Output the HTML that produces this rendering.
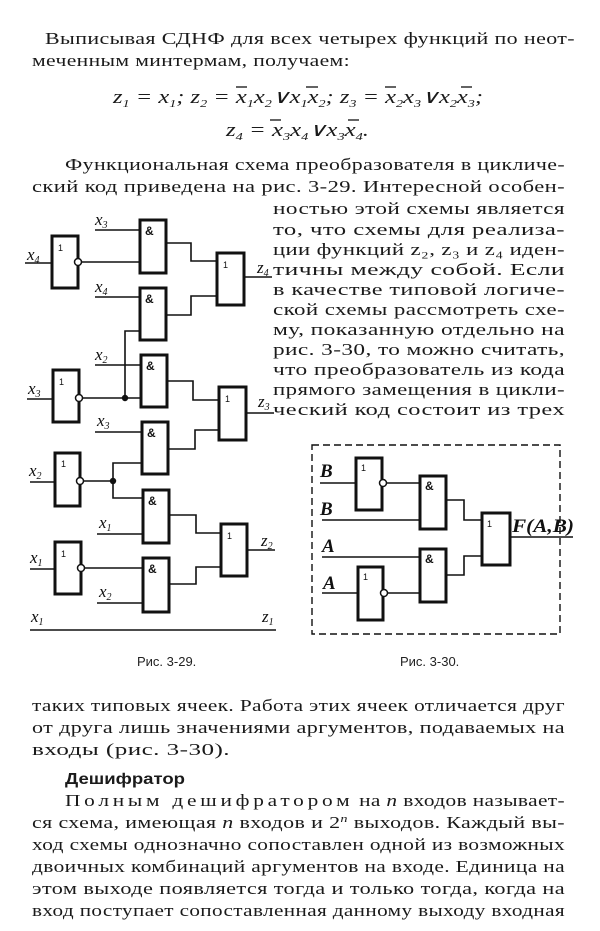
<!DOCTYPE html>
<html><head><meta charset="utf-8"><style>
html,body{margin:0;padding:0;background:#fff;}
svg{display:block}
.t{font-family:"Liberation Serif",serif;font-size:17px;fill:#1a1a1a;letter-spacing:0.3px}
.m{font-family:"Liberation Serif",serif;font-style:italic;font-size:19px;fill:#1a1a1a}
.s{font-family:"Liberation Serif",serif;font-style:italic;font-size:17px;fill:#111}
.c{font-family:"Liberation Sans",sans-serif;font-size:13px;fill:#222}
.g{fill:none;stroke:#111;stroke-width:3}
.w{fill:none;stroke:#111;stroke-width:1.6}
.gl{font-family:"Liberation Sans",sans-serif;font-size:9px;fill:#111}
.ga{font-family:"Liberation Sans",sans-serif;font-size:12px;font-weight:bold;fill:#111}
.b{font-family:"Liberation Serif",serif;font-style:italic;font-weight:bold;font-size:19px;fill:#111}
</style></head><body>
<svg width="600" height="931" viewBox="0 0 600 931" xmlns="http://www.w3.org/2000/svg">
<text class="t" x="45" y="44" textLength="530" lengthAdjust="spacingAndGlyphs">Выписывая СДНФ для всех четырех функций по неот-</text>
<text class="t" x="32" y="66" textLength="318" lengthAdjust="spacingAndGlyphs">меченным минтермам, получаем:</text>
<text class="m" x="113" y="103" textLength="370" lengthAdjust="spacingAndGlyphs">z<tspan font-size="11" dy="4">1</tspan><tspan dy="-4"> = x</tspan><tspan font-size="11" dy="4">1</tspan><tspan dy="-4">;  z</tspan><tspan font-size="11" dy="4">2</tspan><tspan dy="-4"> = x</tspan><tspan font-size="11" dy="4">1</tspan><tspan dy="-4">x</tspan><tspan font-size="11" dy="4">2</tspan><tspan dy="-4">∨x</tspan><tspan font-size="11" dy="4">1</tspan><tspan dy="-4">x</tspan><tspan font-size="11" dy="4">2</tspan><tspan dy="-4">;  z</tspan><tspan font-size="11" dy="4">3</tspan><tspan dy="-4"> = x</tspan><tspan font-size="11" dy="4">2</tspan><tspan dy="-4">x</tspan><tspan font-size="11" dy="4">3</tspan><tspan dy="-4">∨x</tspan><tspan font-size="11" dy="4">2</tspan><tspan dy="-4">x</tspan><tspan font-size="11" dy="4">3</tspan><tspan dy="-4">;</tspan></text>
<g stroke="#111" stroke-width="1.3">
<line x1="236" y1="87" x2="247" y2="87"/><line x1="306" y1="87" x2="318" y2="87"/>
<line x1="385" y1="87" x2="396" y2="87"/><line x1="461" y1="87" x2="472" y2="87"/>
<line x1="270" y1="120" x2="281" y2="120"/><line x1="348" y1="120" x2="359" y2="120"/>
</g>
<text class="m" x="226" y="136" textLength="143" lengthAdjust="spacingAndGlyphs">z<tspan font-size="11" dy="4">4</tspan><tspan dy="-4"> = x</tspan><tspan font-size="11" dy="4">3</tspan><tspan dy="-4">x</tspan><tspan font-size="11" dy="4">4</tspan><tspan dy="-4">∨x</tspan><tspan font-size="11" dy="4">3</tspan><tspan dy="-4">x</tspan><tspan font-size="11" dy="4">4</tspan><tspan dy="-4">.</tspan></text>
<text class="t" x="65" y="170" textLength="500" lengthAdjust="spacingAndGlyphs">Функциональная схема преобразователя в цикличе-</text>
<text class="t" x="32" y="192" textLength="533" lengthAdjust="spacingAndGlyphs">ский код приведена на рис. 3-29. Интересной особен-</text>
<g class="t">
<text x="273" y="214" textLength="292" lengthAdjust="spacingAndGlyphs">ностью этой схемы является</text>
<text x="273" y="235" textLength="292" lengthAdjust="spacingAndGlyphs">то, что схемы для реализа-</text>
<text x="273" y="255" textLength="292" lengthAdjust="spacingAndGlyphs">ции функций z₂, z₃ и z₄ иден-</text>
<text x="273" y="275" textLength="292" lengthAdjust="spacingAndGlyphs">тичны  между собой. Если</text>
<text x="273" y="295" textLength="292" lengthAdjust="spacingAndGlyphs">в качестве типовой логиче-</text>
<text x="273" y="315" textLength="292" lengthAdjust="spacingAndGlyphs">ской схемы рассмотреть схе-</text>
<text x="273" y="335" textLength="292" lengthAdjust="spacingAndGlyphs">му, показанную отдельно на</text>
<text x="273" y="355" textLength="292" lengthAdjust="spacingAndGlyphs">рис. 3-30, то можно считать,</text>
<text x="273" y="375" textLength="292" lengthAdjust="spacingAndGlyphs">что преобразователь из кода</text>
<text x="273" y="395" textLength="292" lengthAdjust="spacingAndGlyphs">прямого замещения в цикли-</text>
<text x="273" y="415" textLength="292" lengthAdjust="spacingAndGlyphs">ческий код состоит из трех</text>
</g>
<g class="w">
<path d="M25 263H52"/><path d="M95 230H140"/><path d="M82 262H140"/>
<path d="M166 243H191V261H217"/><path d="M244 277H272"/>
<path d="M95 297H140"/><path d="M166 315H191V296H217"/>
<path d="M140 331H125V398"/>
<path d="M27 399H53"/><path d="M95 365H141"/><path d="M83 398H141"/>
<path d="M167 381H193V400H218"/><path d="M246 413H274"/>
<path d="M95 432H142"/><path d="M168 449H195V430H219"/>
<path d="M142 463H113V498H143"/>
<path d="M30 482H55"/><path d="M84 481H113"/>
<path d="M97 534H143"/><path d="M169 515H196V533H221"/><path d="M247 550H275"/>
<path d="M30 569H55"/><path d="M85 568H143"/><path d="M97 603H143"/><path d="M169 584H196V567H221"/>
<path d="M30 630H276"/>
</g>
<g class="g">
<rect x="52" y="236" width="26" height="52"/><rect x="140" y="220" width="26" height="53"/>
<rect x="217" y="253" width="27" height="52"/><rect x="140" y="288" width="26" height="52"/>
<rect x="53" y="370" width="26" height="52"/><rect x="141" y="355" width="26" height="52"/>
<rect x="219" y="387" width="27" height="53"/><rect x="142" y="422" width="26" height="52"/>
<rect x="55" y="453" width="25" height="53"/><rect x="143" y="490" width="26" height="53"/>
<rect x="221" y="524" width="26" height="52"/><rect x="55" y="542" width="26" height="52"/>
<rect x="143" y="558" width="26" height="54"/>
</g>
<g fill="#fff" stroke="#111" stroke-width="1.5">
<circle cx="78" cy="262" r="3.5"/><circle cx="79" cy="398" r="3.5"/><circle cx="80" cy="481" r="3.5"/><circle cx="81" cy="568" r="3.5"/>
</g>
<circle cx="125" cy="398" r="3.2" fill="#111"/><circle cx="113" cy="481" r="3.2" fill="#111"/>
<g class="gl">
<text x="58" y="251">1</text><text x="223" y="268">1</text><text x="59" y="385">1</text><text x="225" y="402">1</text>
<text x="61" y="467">1</text><text x="227" y="539">1</text><text x="61" y="557">1</text>
</g>
<g class="ga">
<text x="145" y="235">&amp;</text><text x="145" y="303">&amp;</text><text x="146" y="370">&amp;</text><text x="147" y="437">&amp;</text>
<text x="148" y="505">&amp;</text><text x="148" y="573">&amp;</text>
</g>
<g class="s">
<text x="95" y="225">x<tspan font-size="10" dy="3">3</tspan></text>
<text x="27" y="260">x<tspan font-size="10" dy="3">4</tspan></text>
<text x="257" y="273">z<tspan font-size="10" dy="3">4</tspan></text>
<text x="95" y="292">x<tspan font-size="10" dy="3">4</tspan></text>
<text x="95" y="360">x<tspan font-size="10" dy="3">2</tspan></text>
<text x="28" y="394">x<tspan font-size="10" dy="3">3</tspan></text>
<text x="258" y="407">z<tspan font-size="10" dy="3">3</tspan></text>
<text x="97" y="426">x<tspan font-size="10" dy="3">3</tspan></text>
<text x="29" y="476">x<tspan font-size="10" dy="3">2</tspan></text>
<text x="99" y="528">x<tspan font-size="10" dy="3">1</tspan></text>
<text x="261" y="546">z<tspan font-size="10" dy="3">2</tspan></text>
<text x="30" y="563">x<tspan font-size="10" dy="3">1</tspan></text>
<text x="99" y="597">x<tspan font-size="10" dy="3">2</tspan></text>
<text x="31" y="622">x<tspan font-size="10" dy="3">1</tspan></text>
<text x="262" y="622">z<tspan font-size="10" dy="3">1</tspan></text>
</g>
<text class="c" x="137" y="666">Рис. 3-29.</text>
<rect x="312" y="445" width="248" height="189" fill="none" stroke="#111" stroke-width="1.4" stroke-dasharray="7,4"/>
<g class="w">
<path d="M320 483H356"/><path d="M386 483H420"/><path d="M322 520H420"/>
<path d="M446 500H464V520H482"/><path d="M510 537H573"/>
<path d="M322 557H420"/><path d="M322 593H358"/><path d="M387 593H420"/>
<path d="M446 575H464V556H482"/>
</g>
<g class="g">
<rect x="356" y="458" width="26" height="52"/><rect x="420" y="476" width="26" height="53"/>
<rect x="482" y="513" width="28" height="52"/><rect x="420" y="549" width="26" height="53"/>
<rect x="358" y="567" width="25" height="53"/>
</g>
<g fill="#fff" stroke="#111" stroke-width="1.5"><circle cx="383" cy="483" r="3.5"/><circle cx="384" cy="593" r="3.5"/></g>
<g class="gl"><text x="361" y="471">1</text><text x="487" y="527">1</text><text x="363" y="580">1</text></g>
<g class="ga"><text x="425" y="490">&amp;</text><text x="425" y="563">&amp;</text></g>
<g class="b">
<text x="320" y="477">B</text><text x="320" y="515">B</text><text x="322" y="552">A</text><text x="323" y="589">A</text>
<text x="512" y="532" textLength="62" lengthAdjust="spacingAndGlyphs">F(A,B)</text>
</g>
<text class="c" x="400" y="666">Рис. 3-30.</text>
<text class="t" x="32" y="711" textLength="533" lengthAdjust="spacingAndGlyphs">таких типовых ячеек. Работа этих ячеек отличается друг</text>
<text class="t" x="32" y="733" textLength="533" lengthAdjust="spacingAndGlyphs">от друга лишь значениями аргументов, подаваемых на</text>
<text class="t" x="32" y="755" textLength="198" lengthAdjust="spacingAndGlyphs">входы (рис. 3-30).</text>
<text x="65" y="784" font-family="Liberation Sans,sans-serif" font-weight="bold" font-size="16" fill="#1a1a1a" textLength="120" lengthAdjust="spacingAndGlyphs">Дешифратор</text>
<text class="t" x="65" y="806" textLength="500" lengthAdjust="spacingAndGlyphs"><tspan letter-spacing="3">Полным дешифратором</tspan> на <tspan font-style="italic">n</tspan> входов называет-</text>
<text class="t" x="32" y="828" textLength="533" lengthAdjust="spacingAndGlyphs">ся схема, имеющая <tspan font-style="italic">n</tspan> входов и 2<tspan font-size="11" dy="-6" font-style="italic">n</tspan><tspan dy="6"> выходов. Каждый вы-</tspan></text>
<text class="t" x="32" y="850" textLength="533" lengthAdjust="spacingAndGlyphs">ход схемы однозначно сопоставлен одной из возможных</text>
<text class="t" x="32" y="872" textLength="533" lengthAdjust="spacingAndGlyphs">двоичных комбинаций аргументов на входе. Единица на</text>
<text class="t" x="32" y="894" textLength="533" lengthAdjust="spacingAndGlyphs">этом выходе появляется тогда и только тогда, когда на</text>
<text class="t" x="32" y="916" textLength="533" lengthAdjust="spacingAndGlyphs">вход поступает сопоставленная данному выходу входная</text>
</svg>
</body></html>
